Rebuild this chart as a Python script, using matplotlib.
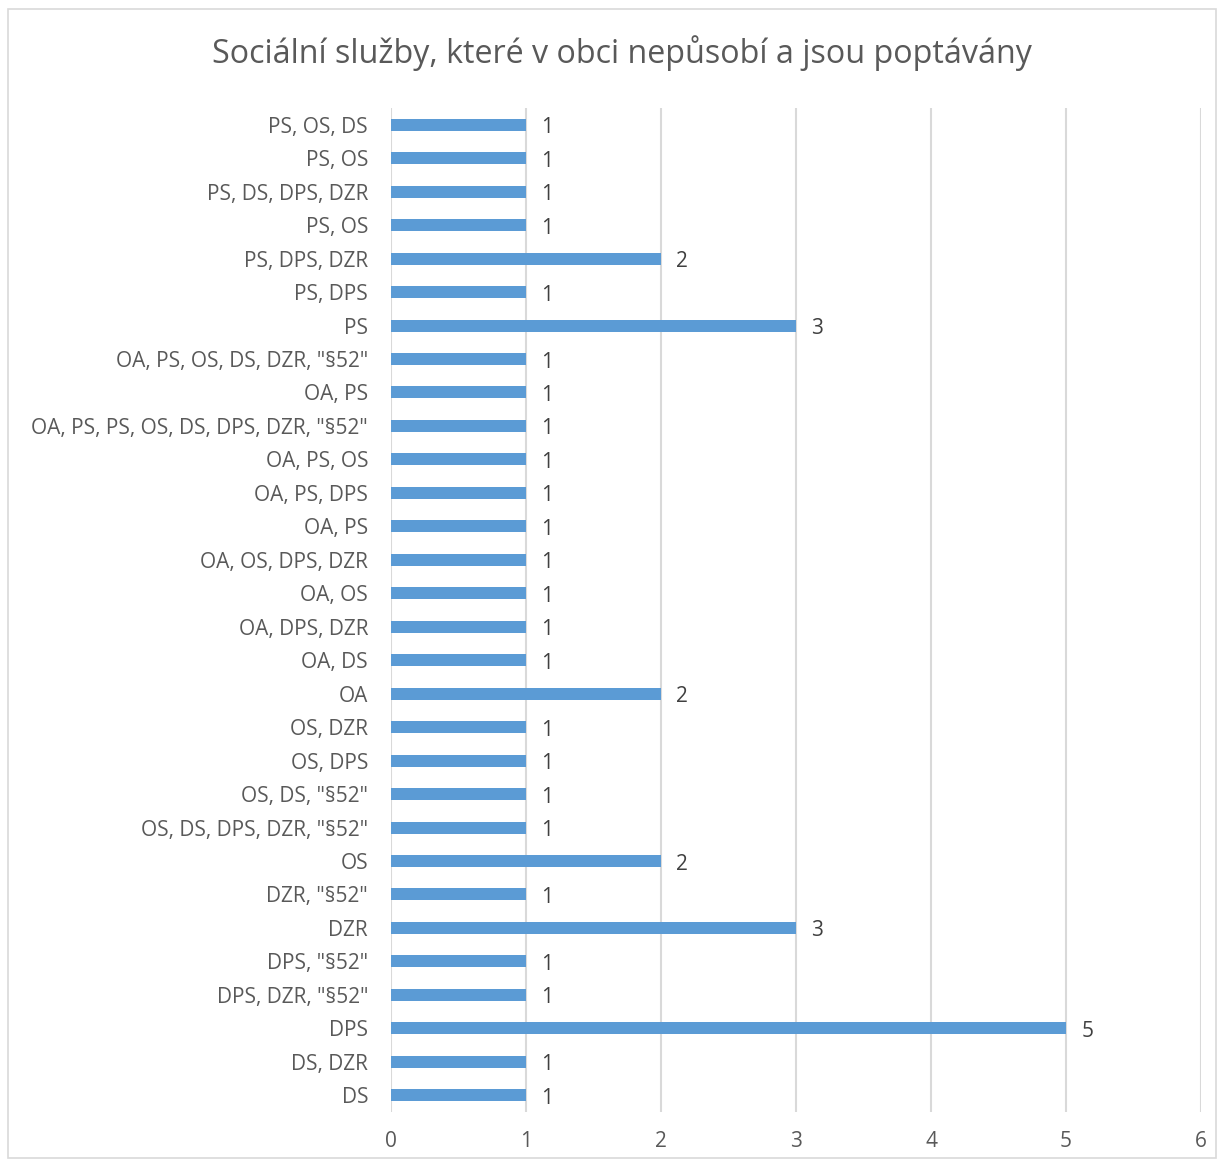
import matplotlib
matplotlib.use("Agg")
import matplotlib.pyplot as plt
from matplotlib.patches import Rectangle

categories = [
    'DS', 'DS, DZR', 'DPS', 'DPS, DZR, "§52"', 'DPS, "§52"', 'DZR', 'DZR, "§52"',
    'OS', 'OS, DS, DPS, DZR, "§52"', 'OS, DS, "§52"', 'OS, DPS', 'OS, DZR',
    'OA', 'OA, DS', 'OA, DPS, DZR', 'OA, OS', 'OA, OS, DPS, DZR', 'OA, PS',
    'OA, PS, DPS', 'OA, PS, OS', 'OA, PS, PS, OS, DS, DPS, DZR, "§52"', 'OA, PS',
    'OA, PS, OS, DS, DZR, "§52"', 'PS', 'PS, DPS', 'PS, DPS, DZR', 'PS, OS',
    'PS, DS, DPS, DZR', 'PS, OS', 'PS, OS, DS',
]
values = [1, 1, 5, 1, 1, 3, 1, 2, 1, 1, 1, 1, 2, 1, 1, 1, 1, 1, 1, 1, 1, 1, 1, 3, 1, 2, 1, 1, 1, 1]
x_ticks = [0, 1, 2, 3, 4, 5, 6]
title = "Sociální služby, které v obci nepůsobí a jsou poptávány"

plt.rcParams['font.family'] = ['Open Sans', 'DejaVu Sans']
W, H = 1224, 1166
fig = plt.figure(figsize=(W / 100, H / 100), dpi=100)
fig.patches.append(Rectangle((8 / W, 1 - 1158 / H), 1208 / W, 1149 / H, transform=fig.transFigure,
                             fill=False, edgecolor='#D9D9D9', linewidth=1.2))
ax = fig.add_axes([391 / W, 1 - 1112 / H, (1201 - 391) / W, (1112 - 108) / H])
pos = list(range(len(categories)))
bars = ax.barh(pos, values, height=0.36, color='#5B9BD5', zorder=3)
ax.set_xlim(0, 6)
ax.set_ylim(-0.5, len(categories) - 0.5)
ax.set_xticks(x_ticks)
ax.set_yticks(pos)
ax.set_yticklabels(categories)
ax.tick_params(axis='both', length=0, colors='#595959', labelsize=15)
ax.tick_params(axis='y', pad=16.5)
ax.tick_params(axis='x', pad=14)
ax.grid(axis='x', color='#D9D9D9', linewidth=1.5, zorder=0)
for s in ax.spines.values():
    s.set_visible(False)
for b, v in zip(bars, values):
    ax.annotate(str(v), (v, b.get_y() + b.get_height() / 2), xytext=(11, -2.2),
                textcoords='offset points', ha='left', va='center',
                fontsize=15, color='#404040')
fig.text(622 / W, 1 - 53 / H, title, ha='center', va='center', fontsize=23.2, color='#595959')
fig.savefig('out.png', dpi=100)
